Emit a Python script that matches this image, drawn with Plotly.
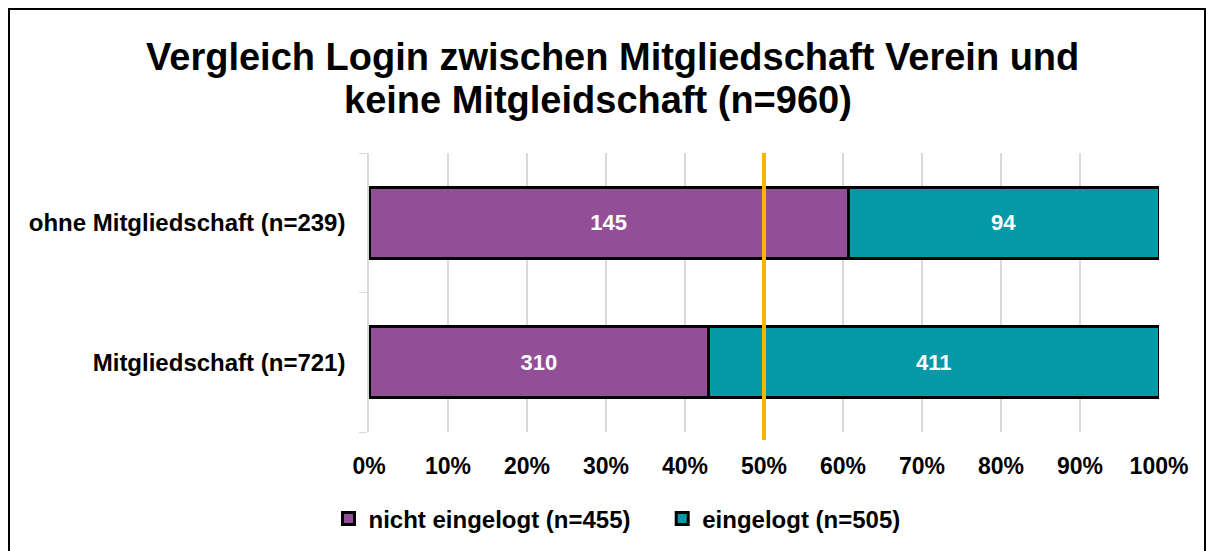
import plotly.graph_objects as go

categories = ["Mitgliedschaft (n=721)", "ohne Mitgliedschaft (n=239)"]
nicht_eingelogt = [310, 145]
eingelogt = [411, 94]
series_names = ["nicht eingelogt (n=455)", "eingelogt (n=505)"]
x_ticks = [i / 10 for i in range(11)]
x_ticklabels = [f"{i * 10}%" for i in range(11)]
title_lines = ["Vergleich Login zwischen Mitgliedschaft Verein und",
               "keine Mitgleidschaft (n=960)"]

FONT = "Liberation Sans, Arial, sans-serif"

# page has an 8px body margin; figure is sized to the remaining viewport
W, H = 1206, 543
L, T = 361, 145
PW, PH = 790, 279


def px(xr):  # reference page x -> paper x
    return (xr - 369) / PW


def py(yr):  # reference page y -> paper y
    return (432 - yr) / PH


fig = go.Figure()
legend_names = [f"<b>{series_names[0]}</b>&nbsp;&nbsp;&nbsp;&nbsp;", f"<b>{series_names[1]}</b>"]
for vals, name, col in [(nicht_eingelogt, legend_names[0], "#934E98"),
                        (eingelogt, legend_names[1], "#0399A6")]:
    fig.add_trace(go.Bar(
        y=categories, x=vals, name=name, orientation="h",
        marker=dict(color=col, line=dict(color="black", width=3)),
        text=vals, texttemplate="<b>%{text}</b>", textposition="inside",
        insidetextanchor="middle", textfont=dict(color="white", size=22, family=FONT),
    ))

fig.update_layout(
    barmode="stack", barnorm="fraction", bargap=0.49,
    width=W, height=H,
    margin=dict(l=L, r=W - L - PW, t=T, b=H - T - PH),
    paper_bgcolor="white", plot_bgcolor="white",
    font=dict(family=FONT, color="black"),
    legend=dict(orientation="h", x=609 / W, xref="container", xanchor="center",
                y=1 - 511 / H, yref="container", yanchor="middle",
                font=dict(size=24, family=FONT, color="black"),
                itemwidth=30, traceorder="normal"),
    showlegend=True,
)
fig.update_xaxes(range=[0, 1], tickvals=x_ticks, ticktext=[f"<b>{t}</b>" for t in x_ticklabels],
                 showgrid=True, gridcolor="#D9D9D9", gridwidth=1.5, zeroline=False,
                 showline=False, ticks="", ticklabelstandoff=18,
                 tickfont=dict(size=23, family=FONT, color="black"))
fig.update_yaxes(categoryorder="array", categoryarray=categories,
                 ticktext=[f"<b>{c}</b>" for c in categories], tickvals=categories,
                 showgrid=False, showline=True, linecolor="#D9D9D9", linewidth=1.5,
                 ticks="outside", tickson="boundaries", ticklen=8, tickcolor="#D9D9D9",
                 ticklabelstandoff=17,
                 tickfont=dict(size=24, family=FONT, color="black"))

# title as two lines
for txt, xr, yr in [(title_lines[0], 612, 57), (title_lines[1], 597.5, 100)]:
    fig.add_annotation(text=f"<b>{txt}</b>", xref="paper", yref="paper",
                       x=px(xr), y=py(yr), xanchor="center", yanchor="middle",
                       showarrow=False, font=dict(size=38, family=FONT, color="black"))

# 50% reference line
fig.add_shape(type="line", xref="x", yref="paper", x0=0.5, x1=0.5, y0=py(440), y1=1.0,
              line=dict(color="#F7B500", width=4))
# outer chart border
fig.add_shape(type="rect", xref="paper", yref="paper",
              x0=px(9), x1=px(1205), y0=py(600), y1=py(9),
              line=dict(color="black", width=2), fillcolor="rgba(0,0,0,0)", layer="below")

fig.write_html("out.html")
